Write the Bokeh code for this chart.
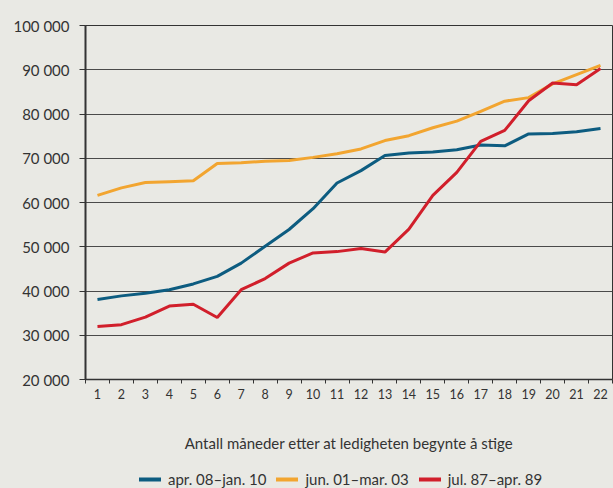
from bokeh.plotting import figure
from bokeh.layouts import column
from bokeh.models import FixedTicker, Legend, LegendItem, Range1d
from bokeh.embed import file_html
from bokeh.resources import INLINE

months = list(range(1, 23))
apr08_jan10 = [38100, 38900, 39500, 40300, 41600, 43300, 46300, 50100, 53900, 58600,
               64400, 67200, 70600, 71200, 71400, 71900, 73000, 72800, 75500, 75600,
               76000, 76700]
jun01_mar03 = [61600, 63300, 64500, 64700, 64900, 68800, 69000, 69300, 69500, 70200,
               71000, 72100, 74000, 75100, 76900, 78400, 80600, 82900, 83700, 86800,
               88900, 91000]
jul87_apr89 = [32000, 32400, 34100, 36600, 37000, 34000, 40300, 42800, 46300, 48600,
               48900, 49600, 48800, 54000, 61600, 66800, 73800, 76300, 83000, 87000,
               86600, 90300]
series_labels = ["apr. 08\u2013jan. 10", "jun. 01\u2013mar. 03", "jul. 87\u2013apr. 89"]
y_ticks = [20000, 30000, 40000, 50000, 60000, 70000, 80000, 90000, 100000]
y_tick_labels = ["20 000", "30 000", "40 000", "50 000", "60 000", "70 000",
                 "80 000", "90 000", "100 000"]
x_title = "Antall måneder etter at ledigheten begynte å stige"

colors = ["#0d5c80", "#f2a530", "#d11f2b"]
FONT = "Lato"
BG = "#e9e9e4"
series = [apr08_jan10, jun01_mar03, jul87_apr89]

p = figure(width=613, height=466, output_backend="svg", toolbar_location=None,
           x_range=Range1d(0.5, 22.5), y_range=Range1d(20000, 100000),
           min_border_left=85, min_border_right=1, min_border_top=25,
           min_border_bottom=87)
p.background_fill_color = BG
p.border_fill_color = BG
p.outline_line_color = "#333333"
p.outline_line_width = 1

for vals, c in zip(series, colors):
    p.line(months, vals, line_color=c, line_width=3)

# x axis
xa = p.xaxis[0]
xa.ticker = FixedTicker(ticks=months, minor_ticks=[m - 0.5 for m in months] + [22.5])
xa.major_tick_out = 0
xa.major_tick_in = 0
xa.minor_tick_out = 4
xa.minor_tick_in = 0
xa.minor_tick_line_color = "#333333"
xa.axis_line_color = "#333333"
xa.axis_line_width = 1.5
xa.major_label_text_font = FONT
xa.major_label_text_font_size = "12.5px"
xa.major_label_text_color = "#333333"
xa.major_label_standoff = 5
xa.axis_label = x_title
xa.axis_label_text_font = FONT
xa.axis_label_text_font_size = "15px"
xa.axis_label_text_font_style = "normal"
xa.axis_label_text_color = "#333333"
xa.axis_label_standoff = 32

# y axis
ya = p.yaxis[0]
ya.ticker = FixedTicker(ticks=y_ticks)
ya.major_label_overrides = {t: l for t, l in zip(y_ticks, y_tick_labels)}
ya.major_tick_out = 6
ya.major_tick_in = 0
ya.minor_tick_out = 0
ya.minor_tick_in = 0
ya.major_tick_line_color = "#333333"
ya.axis_line_color = "#333333"
ya.axis_line_width = 2
ya.major_label_text_font = FONT
ya.major_label_text_font_size = "15px"
ya.major_label_text_color = "#333333"
ya.major_label_standoff = 10

p.xgrid.grid_line_color = None
p.ygrid.ticker = FixedTicker(ticks=y_ticks)
p.ygrid.grid_line_color = "#4a4a4a"
p.ygrid.grid_line_width = 1

# legend strip (its lines are out of view; only the legend shows)
lg = figure(width=613, height=22, output_backend="svg", toolbar_location=None,
            x_range=Range1d(100, 101), y_range=Range1d(0, 1),
            x_axis_type=None, y_axis_type=None, min_border=0)
lg.background_fill_color = BG
lg.border_fill_color = BG
lg.outline_line_color = None
lg.xgrid.grid_line_color = None
lg.ygrid.grid_line_color = None
items = []
for vals, c, lab in zip(series, colors, series_labels):
    r = lg.line(months, vals, line_color=c, line_width=4, line_cap="round")
    items.append(LegendItem(label=lab, renderers=[r]))
legend = Legend(items=items, orientation="horizontal", location=(54, 0),
                background_fill_alpha=0, border_line_alpha=0,
                label_text_font=FONT, label_text_font_size="15px",
                label_text_color="#333333", glyph_width=22, glyph_height=16,
                label_standoff=7, spacing=10, padding=0, margin=0)
lg.add_layout(legend, "center")

layout = column(p, lg, spacing=0, styles={"background-color": BG})
open("out.html", "w").write(file_html(layout, INLINE))
